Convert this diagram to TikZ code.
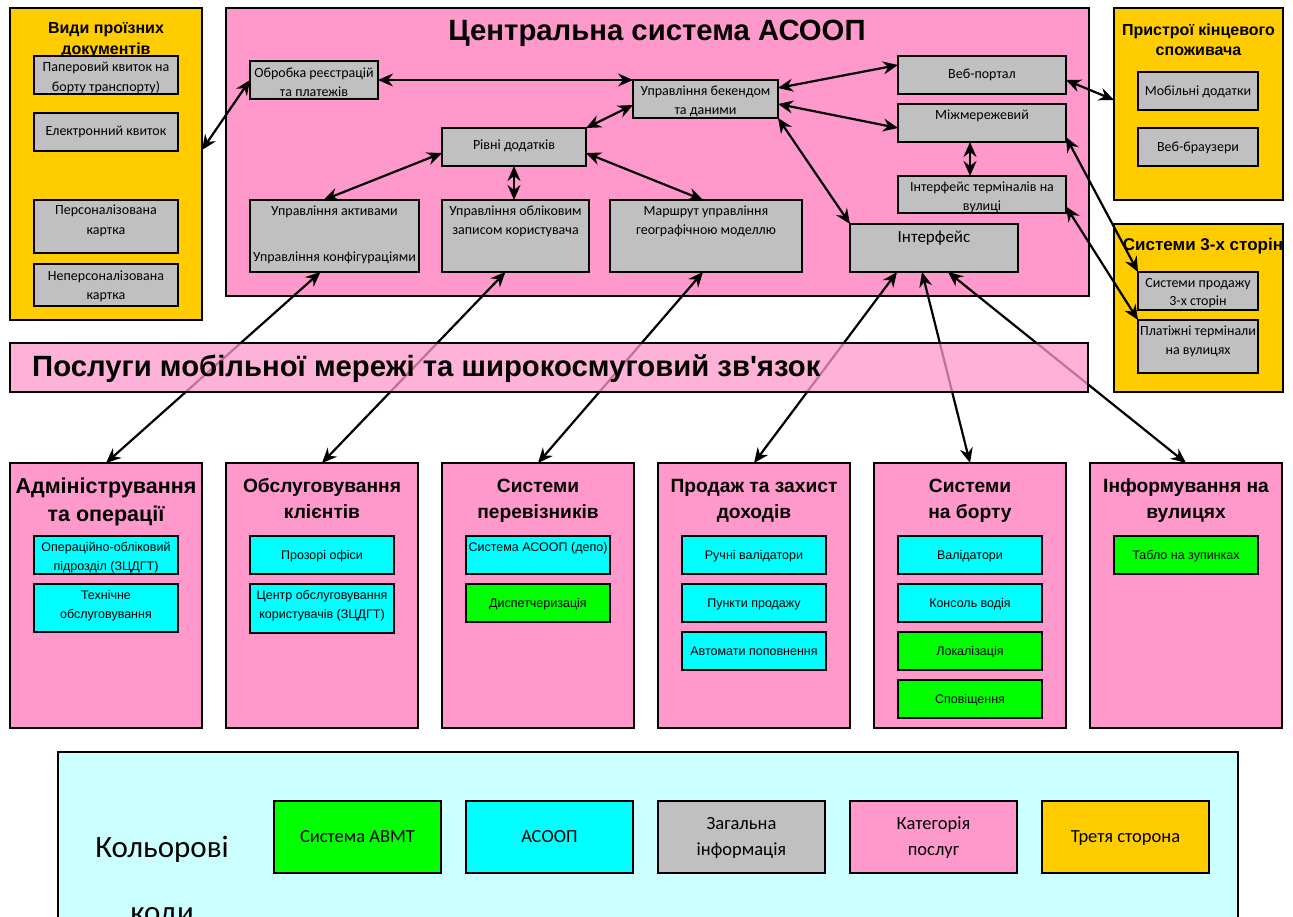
\documentclass[tikz,border=0pt]{standalone}
\usepackage{fontspec}
\setmainfont{Liberation Sans}
\newfontfamily\carl{Carlito}
\usetikzlibrary{arrows.meta,calc}
\definecolor{pk}{HTML}{FF99CC}
\definecolor{yl}{HTML}{FFCC00}
\definecolor{gr}{HTML}{C0C0C0}
\definecolor{cy}{HTML}{00FFFF}
\definecolor{gn}{HTML}{00FF00}
\definecolor{lc}{HTML}{CCFFFF}
\tikzset{
  bbase/.style={draw, line width=1.8pt, inner sep=0pt, outer sep=0pt},
  gbox/.style={bbase, fill=gr},
  cbox/.style={bbase, fill=cy},
  nbox/.style={bbase, fill=gn},
  pbox/.style={bbase, fill=pk},
  ybox/.style={bbase, fill=yl},
  tx/.style={inner sep=0pt, anchor=north, align=center},
  gt/.style={font=\carl\fontsize{14}{19}\selectfont},
  gtl/.style={font=\carl\fontsize{17}{19}\selectfont},
  ct/.style={font=\fontsize{12.5}{19}\selectfont},
  lt/.style={font=\carl\fontsize{18.5}{26}\selectfont},
  ptitle/.style={tx, font=\bfseries\fontsize{16}{21}\selectfont},
  ctitle/.style={tx, font=\bfseries\fontsize{19.2}{26}\selectfont},
  arr/.style={line width=2.2pt, {Stealth[length=15pt,width=13pt,inset=5pt]}-{Stealth[length=15pt,width=13pt,inset=5pt]}},
}
% name, x1, y1, x2, y2, box style, text style, text offset, text
\newcommand\bx[9]{%
  \node[#6, minimum width={(#4-#2)*1pt}, minimum height={(#5-#3)*1pt}, anchor=north west] (#1) at (#2,#3) {};
  \begin{scope}
    \clip ([xshift=0.9pt,yshift=-0.9pt]#1.north west) rectangle ([xshift=-0.9pt,yshift=0.9pt]#1.south east);
    \node[tx,#7] (#1t) at ([yshift=-#8pt]#1.north) {\strut #9};
  \end{scope}}
\newcommand\pn[6]{%
  \node[#6, minimum width={(#4-#2)*1pt}, minimum height={(#5-#3)*1pt}, anchor=north west] (#1) at (#2,#3) {};}
\begin{document}
\begin{tikzpicture}[x=1pt,y=-1pt]
\useasboundingbox (0,0) rectangle (1293,916);
\fill[white] (0,0) rectangle (1293,916);

% ---------- left panel ----------
\pn{vid}{10}{8}{202}{320}{ybox}
\node[ptitle] (vidt) at (106,18.3) {\strut Види проїзних\\документів};
\bx{pap}{34}{56}{178}{94}{gbox}{gt}{2}{Паперовий квиток на\\[1pt]борту транспорту)}
\bx{ele}{34}{113}{178}{151}{gbox}{gt}{9}{Електронний квиток}
\bx{per}{34}{200}{178}{253}{gbox}{gt}{1}{Персоналізована\\[1pt]картка}
\bx{nep}{34}{264}{178}{306}{gbox}{gt}{3}{Неперсоналізована\\картка}

% ---------- central panel ----------
\pn{cen}{226}{8}{1089}{296}{pbox}
\node[inner sep=0pt, anchor=base, font=\bfseries\fontsize{29.3}{33}\selectfont] (cent) at (657,40) {Центральна система АСООП};
\bx{obr}{250}{61}{378}{99}{gbox}{gt}{3}{Обробка реєстрацій\\та платежів}
\bx{bek}{633}{80}{778}{118}{gbox}{gt}{2}{Управління бекендом\\та даними}
\bx{web}{898}{56}{1066}{94}{gbox}{gt}{9}{Веб-портал}
\bx{mij}{898}{104}{1066}{142}{gbox}{gt}{2}{Міжмережевий}
\bx{ter}{898}{176}{1066}{213}{gbox}{gt}{2}{Інтерфейс терміналів на\\вулиці}
\bx{int}{850}{224}{1018}{272}{gbox}{gtl}{4.7}{Інтерфейс}
\bx{riv}{442}{128}{586}{166}{gbox}{gt}{8}{Рівні додатків}
\bx{akt}{250}{200}{419}{272}{gbox}{gt}{2}{Управління активами\\[27pt]Управління конфігураціями}
\bx{obl}{442}{200}{589}{272}{gbox}{gt}{2}{Управління обліковим\\записом користувача}
\bx{mar}{610}{200}{802}{272}{gbox}{gt}{2}{Маршрут управління\\географічною моделлю}

% ---------- right panels ----------
\pn{pri}{1114}{8}{1283}{200}{ybox}
\node[ptitle, font=\bfseries\fontsize{16}{20}\selectfont] (prit) at (1198.5,21) {\strut Пристрої кінцевого\\споживача};
\bx{mob}{1138}{72}{1258}{110}{gbox}{gt}{10}{Мобільні додатки}
\bx{vbr}{1138}{128}{1258}{166}{gbox}{gt}{10}{Веб-браузери}
\pn{sis}{1114}{224}{1283}{392}{ybox}
\node[inner sep=0pt, anchor=base, font=\bfseries\fontsize{17}{20}\selectfont] (sist) at (1203,250) {Системи 3-х сторін};
\bx{spr}{1138}{272}{1258}{310}{gbox}{gt}{2}{Системи продажу\\[-1pt]3-х сторін}
\bx{pla}{1138}{320}{1258}{373}{gbox}{gt}{2}{Платіжні термінали\\на вулицях}

% ---------- service categories ----------
\pn{adm}{10}{463}{202}{728}{pbox}
\node[ctitle, font=\bfseries\fontsize{21.5}{27}\selectfont] (admt) at (106,474) {\strut Адміністрування\\[1pt]та операції};
\bx{opr}{34}{536}{178}{574}{cbox}{ct}{2}{Операційно-обліковий\\підрозділ (ЗЦДГТ)}
\bx{teh}{34}{584}{178}{632}{cbox}{ct}{2}{Технічне\\обслуговування}

\pn{obs}{226}{463}{418}{728}{pbox}
\node[ctitle] (obst) at (322,474) {\strut Обслуговування\\клієнтів};
\bx{pro}{250}{536}{394}{574}{cbox}{ct}{10}{Прозорі офіси}
\bx{cen2}{250}{584}{394}{633}{cbox}{ct}{2}{Центр обслуговування\\користувачів (ЗЦДГТ)}

\pn{prv}{442}{463}{634}{728}{pbox}
\node[ctitle] (prvt) at (538,474) {\strut Системи\\перевізників};
\bx{dep}{466}{536}{610}{574}{cbox}{ct}{2}{Система АСООП (депо)}
\bx{dis}{466}{584}{610}{622}{nbox}{ct}{10}{Диспетчеризація}

\pn{prd}{658}{463}{850}{728}{pbox}
\node[ctitle] (prdt) at (754,474) {\strut Продаж та захист\\доходів};
\bx{ruc}{682}{536}{826}{574}{cbox}{ct}{10}{Ручні валідатори}
\bx{pun}{682}{584}{826}{622}{cbox}{ct}{10}{Пункти продажу}
\bx{avt}{682}{632}{826}{670}{cbox}{ct}{10}{Автомати поповнення}

\pn{brt}{874}{463}{1066}{728}{pbox}
\node[ctitle] (brtt) at (970,474) {\strut Системи\\на борту};
\bx{val}{898}{536}{1042}{574}{cbox}{ct}{10}{Валідатори}
\bx{kon}{898}{584}{1042}{622}{cbox}{ct}{10}{Консоль водія}
\bx{lok}{898}{632}{1042}{670}{nbox}{ct}{10}{Локалізація}
\bx{spo}{898}{680}{1042}{718}{nbox}{ct}{10}{Сповіщення}

\pn{inf}{1090}{463}{1282}{728}{pbox}
\node[ctitle] (inft) at (1186,474) {\strut Інформування на\\вулицях};
\bx{tab}{1114}{536}{1258}{574}{nbox}{ct}{10}{Табло на зупинках}

% ---------- connectors ----------
\draw[arr] ([yshift=14pt]vid.east) -- (obr.west);
\draw[arr] (obr.east) -- (obr.east -| bek.west);
\draw[arr] (riv.north east) -- ([yshift=-6pt]bek.west);
\draw[arr] ([yshift=-6pt]riv.west) -- ([xshift=-11pt]akt.north);
\draw[arr] (riv.south) -- (riv.south |- obl.north);
\draw[arr] ([yshift=-6pt]riv.east) -- ([xshift=-3pt]mar.north);
\draw[arr] ([yshift=11pt]bek.east) -- ([yshift=10pt]web.west);
\draw[arr] ([yshift=-5pt]bek.east) -- ([yshift=-5pt]mij.west);
\draw[arr] (bek.south east) -- (int.north west);
\draw[arr] ([xshift=-12pt]mij.south) -- ([xshift=-12pt]mij.south |- ter.north);
\draw[arr] ([yshift=-5pt]web.east) -- ([yshift=4pt]pri.west);
\draw[arr] ([yshift=-14pt]mij.east) -- (spr.north west);
\draw[arr] ([yshift=-12pt]ter.east) -- (pla.north west);
\draw[arr] ([xshift=-14pt]akt.south) -- (adm.north);
\draw[arr] ([xshift=-10pt]obl.south) -- (obs.north);
\draw[arr] ([xshift=-3pt]mar.south) -- (prv.north);
\draw[arr] ([xshift=-37pt]int.south) -- (prd.north);
\draw[arr] ([xshift=-12pt]int.south) -- (brt.north);
\draw[arr] ([xshift=14pt]int.south) -- (inf.north);

% ---------- banner ----------
\node[draw, line width=1.5pt, fill=pk, fill opacity=0.75, inner sep=0pt, outer sep=0pt,
      minimum width=1078pt, minimum height=49pt, anchor=north west] (ban) at (10,343) {};
\node[inner sep=0pt, anchor=base west, font=\bfseries\fontsize{29.3}{33}\selectfont] (bant) at (32,376)
  {Послуги мобільної мережі та широкосмуговий зв\textquotesingle язок};

% ---------- legend ----------
\node[draw, line width=1.8pt, fill=lc, inner sep=0pt, outer sep=0pt,
      minimum width=1180pt, minimum height=200pt, anchor=north west] (leg) at (58,752) {};
\node[tx, font=\carl\fontsize{31}{65}\selectfont] (legt) at (162,811.5) {\strut Кольорові\\коди};
\bx{l1}{274}{801}{441}{873}{nbox}{lt}{23}{Система АВМТ}
\bx{l2}{466}{801}{633}{873}{cbox}{lt}{23}{АСООП}
\bx{l3}{658}{801}{825}{873}{gbox}{lt}{10.5}{Загальна\\інформація}
\bx{l4}{850}{801}{1017}{873}{pbox}{lt}{10.5}{Категорія\\послуг}
\bx{l5}{1042}{801}{1209}{873}{ybox}{lt}{23}{Третя сторона}
\end{tikzpicture}
\end{document}
